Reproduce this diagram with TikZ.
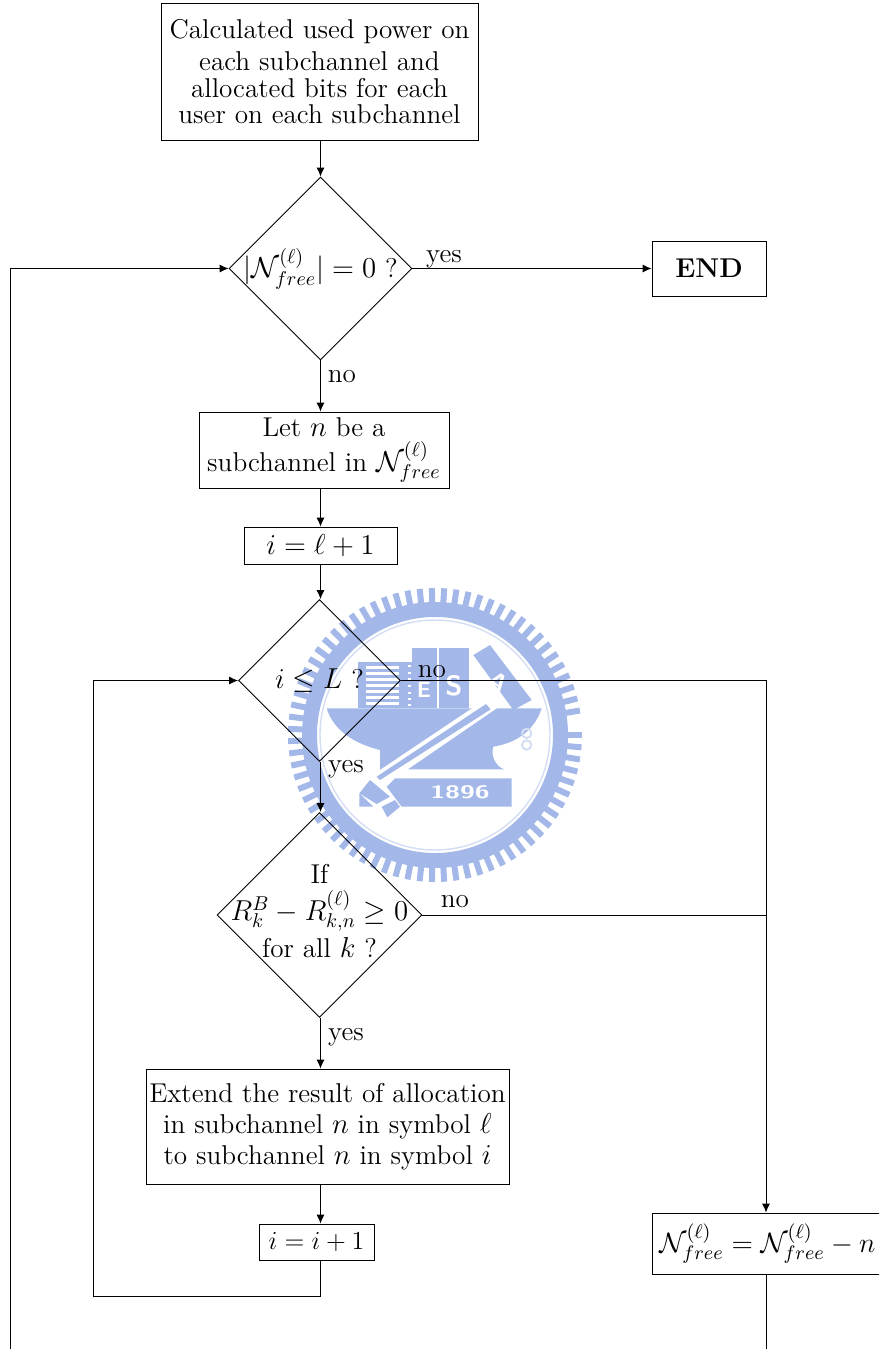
\documentclass[tikz,border=0pt]{standalone}
\usepackage{fix-cm}
\usetikzlibrary{shapes.geometric,arrows.meta,calc}
\DeclareMathSizes{13.6}{14.4}{10}{7.5}
\definecolor{crest}{HTML}{A3B8E8}
\definecolor{crestlight}{HTML}{D3DDF4}
\tikzset{
  every node/.style={font=\fontsize{13.6}{15.4}\selectfont},
  boxnode/.style={draw=black,line width=0.45pt,rectangle,inner sep=0pt,align=center,fill=none},
  decision/.style={draw=black,line width=0.45pt,diamond,inner sep=0pt,minimum width=#1,minimum height=#1},
  flow/.style={line width=0.45pt,-{Latex[length=4.5pt,width=4pt]}},
  plain/.style={line width=0.45pt},
  edgetext/.style={inner sep=0pt,anchor=base},
  crestletter/.style={white,inner sep=0pt,font=\sffamily\bfseries\fontsize{#1}{#1}\selectfont}
}
\begin{document}
\begin{tikzpicture}[x=0.5pt,y=-0.5pt]
\useasboundingbox (0,0) rectangle (879,1349);
\clip (0,0) rectangle (879,1349);
% watermark crest
\begin{scope}[shift={(435,735)}]
  \draw[crest,line width=7.5pt] (0,0) circle[x radius=125.5,y radius=125.5];
  \foreach \a in {0,4.8,...,355} {
    \draw[crest,line width=3pt] (\a:131) -- (\a:147);
  }
  \draw[crestlight,line width=0.7pt] (0,0) circle[x radius=115,y radius=115];
\end{scope}
\begin{scope}[shift={(280,580)},x=0.16667pt,y=-0.16667pt]
  % anvil
  \fill[crest] (140,385) -- (785,385) .. controls (760,460) and (700,490) .. (640,500)
     .. controls (630,530) and (650,560) .. (672,568) -- (400,568) -- (300,570) -- (300,510)
     .. controls (220,490) and (160,450) .. (140,385) -- cycle;
  % books
  \fill[crest] (235,245) rectangle (360,385);
  \foreach \y in {258,276,294,312,330,348,366} {
    \fill[white] (258,\y) rectangle (358,\y+9);
  }
  \fill[crest] (360,245) rectangle (395,385);
  \foreach \y in {255,275,295,315,335,355,372} {
    \fill[white] (383,\y) rectangle (393,\y+6);
  }
  \fill[crest] (395,205) rectangle (470,385);
  \fill[crest] (478,205) rectangle (568,385);
  \fill[crest] (580,225) -- (630,195) -- (755,360) -- (700,390) -- cycle;
  \node[crestletter=11] (crestE) at (432,330) {E};
  \node[crestletter=14] (crestS) at (522,318) {S};
  \node[crestletter=12,rotate=-35] (crestA) at (655,305) {A};
  % chisel, white outline
  \fill[white] (625,352) -- (650,385) -- (300,625) -- (270,590) -- cycle;
  \fill[crest] (618,372) -- (632,388) -- (300,600) -- (290,590) -- cycle;
  \fill[crest] (270,600) -- (330,650) -- (290,672) -- (238,640) -- cycle;
  \fill[crest] (305,680) -- (345,660) -- (360,680) -- (322,712) -- cycle;
  \fill[crest] (238,640) -- (280,680) -- (238,680) -- cycle;
  % banner
  \fill[crest] (320,620) -- (345,595) -- (695,595) -- (695,680) -- (365,680) -- cycle;
  \node[crestletter=9,xscale=1.5] (crestYear) at (540,638) {1896};
  % small ornament
  \draw[crestlight,line width=1pt] (740,460) circle[x radius=14,y radius=14];
  \draw[crestlight,line width=1pt] (740,495) circle[x radius=14,y radius=14];
\end{scope}
% nodes
\node[boxnode,minimum width=158.5pt,minimum height=68.5pt,font=\fontsize{13.6}{13.3}\selectfont] (start) at (319.5,71.5)
  {Calculated used power on\\[2.8pt] each subchannel and\\ allocated bits for each\\ user on each subchannel};
\node[decision=91.5pt,label={[inner sep=0pt]center:$|\mathcal{N}_{free}^{(\ell)}|=0$ ?}] (free) at (320.5,268.5) {};
\node[boxnode,minimum width=57pt,minimum height=27.5pt] (finish) at (709,268.5) {\bfseries END};
\node[boxnode,minimum width=125pt,minimum height=38pt] (pick) at (324,450)
  {Let $n$ be a\\[2pt] subchannel in $\mathcal{N}_{free}^{(\ell)}$};
\node[boxnode,minimum width=76.5pt,minimum height=18.5pt] (init) at (320.5,545.5) {$i=\ell+1$};
\node[decision=81pt,label={[inner sep=0pt]center:$i\leq L$ ?}] (limit) at (319.5,680.5) {};
\node[decision=102.5pt,label={[inner sep=0pt,align=center,yshift=1.8pt]center:If\\[3pt] $R_k^B-R_{k,n}^{(\ell)}\geq 0$\\[2pt] for all $k$ ?}] (check) at (319.5,915) {};
\node[boxnode,minimum width=181.5pt,minimum height=57.5pt] (extend) at (327.5,1126.5)
  {Extend the result of allocation\\ in subchannel $n$ in symbol $\ell$\\ to subchannel $n$ in symbol $i$};
\node[boxnode,minimum width=57.5pt,minimum height=18pt,font=\fontsize{13}{15}\selectfont] (incr) at (316.5,1242) {$i=i+1$};
\node[boxnode,minimum width=115pt,minimum height=30.5pt,anchor=west,font=\fontsize{14}{15}\selectfont] (remove) at (652,1243.5)
  {$\mathcal{N}_{free}^{(\ell)}=\mathcal{N}_{free}^{(\ell)}-n$};
% free ends and corners
\coordinate (leftBottom) at (10,1349);
\coordinate (leftTop) at (10,268.5);
\coordinate (loopLow) at (93,1296);
\coordinate (loopHigh) at (93,680.5);
\coordinate (incrLow) at (320,1296);
\coordinate (rightHigh) at (766,680.5);
\coordinate (rightMid) at (766,915);
\coordinate (rightBottom) at (766,1349);
% connectors
\draw[flow] (free.north |- start.south) -- (free.north);
\draw[flow] (free.east) -- (finish.west);
\draw[flow] (free.south) -- (free.south |- pick.north);
\draw[flow] (free.south |- pick.south) -- (free.south |- init.north);
\draw[flow] (free.south |- init.south) -- (free.south |- limit.north);
\draw[flow] (free.south |- limit.south) -- (free.south |- check.north);
\draw[flow] (free.south |- check.south) -- (free.south |- extend.north);
\draw[flow] (free.south |- extend.south) -- (free.south |- incr.north);
\draw[plain] (incrLow |- incr.south) -- (incrLow) -- (loopLow);
\draw[flow] (loopLow) -- (loopHigh) -- (limit.west);
\draw[flow] (limit.east) -- (rightHigh) -- (rightHigh |- remove.north);
\draw[plain] (check.east) -- (rightMid);
\draw[plain] (rightBottom |- remove.south) -- (rightBottom);
\draw[flow] (leftBottom) -- (leftTop) -- (free.west);
% labels
\node[edgetext] (lblYes1) at (444,262) {yes};
\node[edgetext] (lblNo1) at (342,382) {no};
\node[edgetext] (lblNo2) at (432,677) {no};
\node[edgetext] (lblYes2) at (346,772) {yes};
\node[edgetext] (lblNo3) at (455,907) {no};
\node[edgetext] (lblYes3) at (346,1040) {yes};
\end{tikzpicture}
\end{document}
